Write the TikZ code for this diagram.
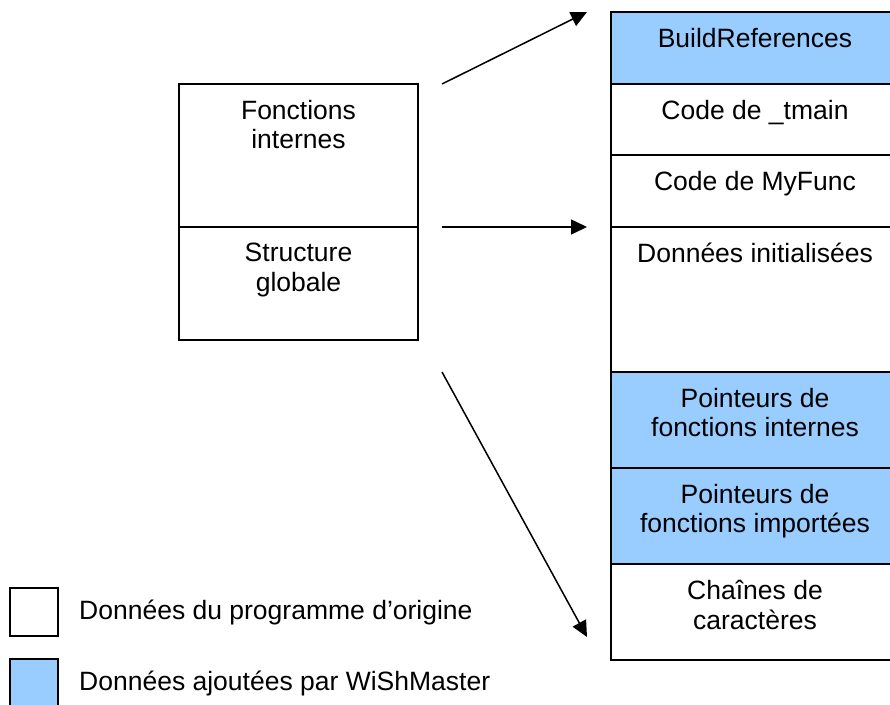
\documentclass[tikz,border=0pt]{standalone}
\usepackage{fontspec}
\setmainfont{Liberation Sans}
\usetikzlibrary{positioning,arrows.meta,calc}
\definecolor{bleuajout}{HTML}{99CCFF}

\tikzset{
  cell/.style={draw, line width=1.5pt, minimum width=288pt, outer sep=0pt, inner sep=0pt},
  ajout/.style={fill=bleuajout},
  txt/.style={anchor=north, align=center, inner sep=0pt, yshift=-16pt, font=\fontsize{26.5}{29.5}\selectfont},
  legtxt/.style={anchor=west, inner sep=0pt, font=\fontsize{26.5}{29.5}\selectfont},
  fleche/.style={line width=1.5pt, -{Triangle[length=16pt,width=15pt]}}
}

\begin{document}
\begin{tikzpicture}[x=1pt,y=-1pt]
    \useasboundingbox (0,0) rectangle (890,704);

    % Programme d'origine
    \node[cell, minimum width=239pt, minimum height=143pt, anchor=north west,
          label={[txt]north:Fonctions\\internes}] (fonc) at (179,84) {};
    \node[cell, minimum width=239pt, minimum height=113pt, below=0pt of fonc,
          label={[txt]north:Structure\\globale}] (struct) {};

    % Programme infecte
    \node[cell, ajout, minimum height=72pt, anchor=north west,
          label={[txt]north:BuildReferences}] (bref) at (611,12) {};
    \node[cell, minimum height=71pt, below=0pt of bref,
          label={[txt]north:Code de \_tmain}] (tmain) {};
    \node[cell, minimum height=72pt, below=0pt of tmain,
          label={[txt]north:Code de MyFunc}] (myfunc) {};
    \node[cell, minimum height=145pt, below=0pt of myfunc,
          label={[txt]north:Données initialisées}] (init) {};
    \node[cell, ajout, minimum height=96pt, below=0pt of init,
          label={[txt]north:Pointeurs de\\fonctions internes}] (ptrint) {};
    \node[cell, ajout, minimum height=96pt, below=0pt of ptrint,
          label={[txt]north:Pointeurs de\\fonctions importées}] (ptrimp) {};
    \node[cell, minimum height=96pt, below=0pt of ptrimp,
          label={[txt]north:Chaînes de\\caractères}] (chaines) {};

    % Fleches
    \coordinate (f1a) at ($(fonc.north east)+(24,0)$);
    \coordinate (f1b) at ($(bref.north west)+(-24,0)$);
    \coordinate (f2a) at ($(fonc.south east)+(24,0)$);
    \coordinate (f2b) at ($(init.north west)+(-24,0)$);
    \coordinate (f3a) at ($(init.south west)+(-169,0)$);
    \coordinate (f3b) at ($(chaines.north west)+(-24,73)$);
    \draw[fleche] (f1a) -- (f1b);
    \draw[fleche] (f2a) -- (f2b);
    \draw[fleche] (f3a) -- (f3b);

    % Legende
    \node[cell, minimum width=48pt, minimum height=48pt, anchor=north west] (legorig) at (10,588) {};
    \node[legtxt, right=21pt of legorig] (txtorig) {Données du programme d’origine};
    \node[cell, ajout, minimum width=48pt, minimum height=48pt, anchor=north west] (legajout) at (10,659) {};
    \node[legtxt, right=21pt of legajout] (txtajout) {Données ajoutées par WiShMaster};
\end{tikzpicture}
\end{document}
